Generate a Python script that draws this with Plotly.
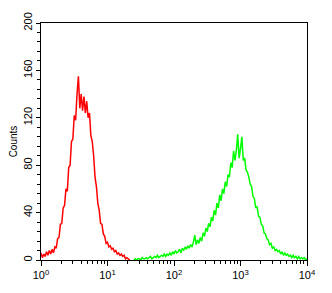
import numpy as np
import plotly.graph_objects as go

# Histogram channels: 48 channels per decade on a 4-decade log scale
CHANNELS_PER_DECADE = 48

red_start_channel = 0
red_counts = [6, 2, 5, 3, 7, 4, 8, 5, 9, 6, 11, 10, 18, 19, 30, 31, 44, 46, 60, 58,
              78, 80, 100, 102, 122, 118, 140, 155, 128, 140, 126, 138, 124, 134, 120, 124,
              105, 100, 88, 70, 62, 48, 42, 31, 30, 22, 20, 14, 15, 11, 12, 9, 10, 7, 8,
              5, 6, 4, 5, 3, 4, 1, 2, 1, 0]

green_start_channel = 67
green_counts = [0, 1, 0, 1, 1, 0, 2, 1, 1, 2, 1, 2, 3, 1, 2, 3, 2, 4, 2, 3,
                4, 3, 5, 3, 5, 4, 6, 4, 7, 5, 8, 6, 7, 9, 6, 10, 8, 11, 9, 12,
                10, 13, 11, 15, 21, 13, 17, 14, 19, 16, 23, 20, 27, 24, 31, 28, 36, 33, 42, 38,
                48, 44, 55, 50, 60, 56, 66, 62, 72, 70, 82, 78, 92, 84, 92, 106, 86, 94, 104, 84,
                86, 76, 74, 70, 64, 62, 54, 52, 44, 45, 37, 36, 30, 29, 23, 22, 18, 17, 13, 14,
                10, 11, 8, 9, 7, 8, 5, 7, 4, 6, 4, 5, 3, 4, 2, 4, 2, 3, 1, 3,
                1, 2, 1, 2, 0, 1]

x_tick_vals = [1, 10, 100, 1000, 10000]
x_tick_text = ["10<sup>0</sup>", "10<sup>1</sup>", "10<sup>2</sup>", "10<sup>3</sup>", "10<sup>4</sup>"]
y_tick_vals = [0, 40, 80, 120, 160, 200]
y_tick_text = ["0", "40", "80", "120", "160", "200"]
y_title = "Counts"


def channel_x(start, n):
    ch = np.arange(start, start + n)
    return 10 ** (ch / CHANNELS_PER_DECADE)


fig = go.Figure()
fig.add_trace(go.Scatter(x=channel_x(red_start_channel, len(red_counts)), y=red_counts,
                         mode="lines", line=dict(color="#FF0000", width=1.5), hoverinfo="skip"))
fig.add_trace(go.Scatter(x=channel_x(green_start_channel, len(green_counts)), y=green_counts,
                         mode="lines", line=dict(color="#00FF00", width=1.5), hoverinfo="skip"))

x_minor = [m * 10 ** d for d in range(4) for m in range(2, 10)]
y_minor = [v for v in range(0, 201, 8) if v % 40 != 0]

fig.update_layout(
    width=332, height=293,
    margin=dict(l=41, r=25, t=22, b=31),
    paper_bgcolor="white", plot_bgcolor="white",
    showlegend=False,
    font=dict(family="Liberation Sans, Arial, sans-serif", color="black"),
)
fig.update_xaxes(
    type="log", range=[0, 4],
    tickmode="array", tickvals=x_tick_vals, ticktext=x_tick_text,
    ticks="outside", ticklen=5, tickwidth=1, tickcolor="black",
    tickfont=dict(size=11),
    minor=dict(tickmode="array", tickvals=x_minor, ticks="outside", ticklen=3,
               tickwidth=1, tickcolor="black", showgrid=False),
    showline=True, linecolor="black", linewidth=1, mirror=True,
    showgrid=False, zeroline=False,
)
fig.update_yaxes(
    range=[0, 200],
    tickmode="array", tickvals=y_tick_vals, ticktext=y_tick_text,
    ticks="outside", ticklen=4, tickwidth=1, tickcolor="black",
    tickangle=-90, tickfont=dict(size=11),
    minor=dict(tickmode="array", tickvals=y_minor, ticks="outside", ticklen=3,
               tickwidth=1, tickcolor="black", showgrid=False),
    showline=True, linecolor="black", linewidth=1, mirror=True,
    showgrid=False, zeroline=False,
    title=dict(text=y_title, font=dict(size=10), standoff=2),
)

fig.write_html("out.html")
